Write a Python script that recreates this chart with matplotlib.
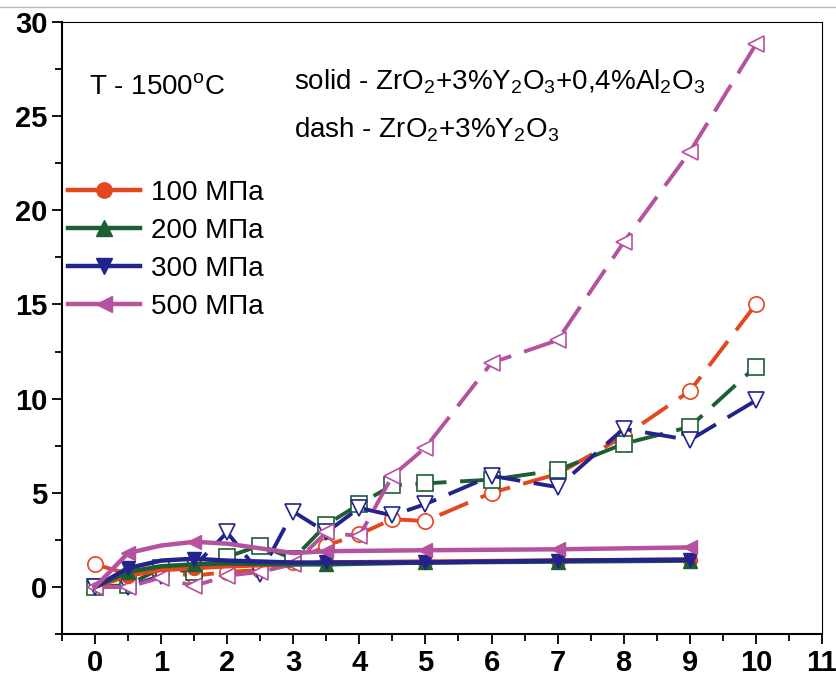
import matplotlib

matplotlib.use("Agg")
import matplotlib.pyplot as plt
from matplotlib.lines import Line2D
from matplotlib.ticker import MultipleLocator

plt.rcParams["font.family"] = "Liberation Sans"
plt.rcParams["mathtext.fontset"] = "custom"
plt.rcParams["mathtext.rm"] = "Liberation Sans"

# dashed series: ZrO2 + 3% Y2O3
x_dash = [0, 0.5, 1, 1.5, 2, 2.5, 3, 3.5, 4, 4.5, 5, 6, 7, 8, 9, 10]
d100 = [1.2, 0.7, 0.8, 0.6, 0.8, 0.9, 1.3, 2.2, 2.8, 3.6, 3.5, 5.0, 6.0, 8.0, 10.4, 15.0]
d200 = [0.0, 0.1, 1.0, 0.8, 1.6, 2.2, 1.5, 3.3, 4.4, 5.4, 5.5, 5.7, 6.2, 7.6, 8.5, 11.7]
d300 = [0.0, 0.0, 0.6, 1.1, 2.9, 0.7, 4.0, 2.9, 4.2, 3.8, 4.4, 5.9, 5.3, 8.4, 7.8, 9.9]
d500 = [0.0, 0.0, 0.5, 0.05, 0.6, 0.8, 1.2, 2.9, 2.7, 5.9, 7.4, 11.9, 13.1, 18.3, 23.1, 28.8]

# solid series: ZrO2 + 3% Y2O3 + 0.4% Al2O3
x_solid = [0, 0.5, 1, 1.5, 2, 3, 3.5, 5, 7, 9]
s100 = [0, 0.6, 0.9, 1.0, 1.1, 1.2, 1.3, 1.35, 1.4, 1.45]
s200 = [0, 0.8, 1.1, 1.2, 1.25, 1.2, 1.2, 1.3, 1.35, 1.4]
s300 = [0, 1.0, 1.4, 1.5, 1.4, 1.3, 1.3, 1.3, 1.4, 1.45]
s500 = [0, 1.8, 2.2, 2.4, 2.3, 1.8, 1.9, 1.95, 2.0, 2.1]

labels = ["100 МПа", "200 МПа", "300 МПа", "500 МПа"]
colors = ["#E4461E", "#1D5E33", "#23238C", "#B4529F"]
solid_markers = ["o", "^", "v", "<"]
dash_markers = ["o", "s", "v", "<"]

fig = plt.figure(figsize=(8.37, 6.84), dpi=100)
ax = fig.add_axes([0.074, 0.073, 0.908, 0.895])

# dashed lines with open markers
for ys, c, m in zip([d100, d200, d300, d500], colors, dash_markers):
    ax.plot(x_dash, ys, color=c, lw=2.8, dashes=(8, 3.5), marker=m,
            ms=11, mfc="white", mec=c, mew=1.2, zorder=2)

# solid lines with filled markers
for ys, c, m in zip([s100, s200, s300, s500], colors, solid_markers):
    ax.plot(x_solid, ys, color=c, lw=3.2, marker=m, ms=10,
            markevery=[1, 3, 6, 7, 8, 9], mfc=c, mec=c, zorder=3)

ax.set_xlim(-0.5, 11)
ax.set_ylim(-2.5, 30)
ax.xaxis.set_major_locator(MultipleLocator(1))
ax.xaxis.set_minor_locator(MultipleLocator(0.5))
ax.yaxis.set_major_locator(MultipleLocator(5))
ax.yaxis.set_minor_locator(MultipleLocator(2.5))
ax.tick_params(which="both", direction="out", top=False, right=False,
               width=1.3)
ax.tick_params(which="major", length=7, labelsize=21)
ax.tick_params(which="minor", length=5)
for lbl in ax.get_xticklabels() + ax.get_yticklabels():
    lbl.set_fontweight("bold")
for sp in ax.spines.values():
    sp.set_linewidth(1.5)
ax.spines["top"].set_linewidth(0.8)
ax.spines["right"].set_linewidth(0.8)

# legend
handles = [Line2D([], [], color=c, lw=3.2, marker=m, ms=11, mfc=c, mec=c)
           for c, m in zip(colors, solid_markers)]
ax.legend(handles, labels, loc="upper left", bbox_to_anchor=(0.008, 0.742),
          frameon=False, fontsize=20, handlelength=2.6, handletextpad=0.4,
          labelspacing=0.43, borderaxespad=0, borderpad=0)

ax.text(0.035, 0.892, r"T - 1500$^\mathregular{o}$C", transform=ax.transAxes,
        fontsize=20, va="center")
ax.text(0.305, 0.902,
        r"solid - ZrO$_\mathregular{2}$+3%Y$_\mathregular{2}$O$_\mathregular{3}$"
        r"+0,4%Al$_\mathregular{2}$O$_\mathregular{3}$",
        transform=ax.transAxes, fontsize=20, va="center")
ax.text(0.305, 0.824,
        r"dash - ZrO$_\mathregular{2}$+3%Y$_\mathregular{2}$O$_\mathregular{3}$",
        transform=ax.transAxes, fontsize=20, va="center")

# thin border line at the top of the image
fig.add_artist(Line2D([0, 1], [0.99, 0.99], color="#BBBBBB", lw=1,
                      transform=fig.transFigure))

fig.savefig("out.png", dpi=100)
